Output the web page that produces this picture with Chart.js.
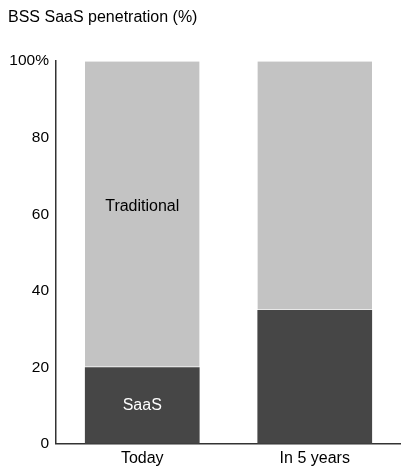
<!DOCTYPE html>
<html><head><meta charset="utf-8">
<script src="https://cdn.jsdelivr.net/npm/chart.js@4/dist/chart.umd.min.js"></script>
<style>html,body{margin:0;padding:0;background:#fff}#wrap{width:401px;height:466px}</style>
</head><body><div id="wrap"><canvas id="c"></canvas></div>
<script>
const categories = ['Today', 'In 5 years'];
const saas = [20, 35];
const traditional = [80, 65];
const yTicks = [0, 20, 40, 60, 80, 100];
const segmentLabels = [
  {text: 'Traditional', cat: 0, value: 62, color: '#000'},
  {text: 'SaaS', cat: 0, value: 10, color: '#fff'}
];
const FONT = '"Liberation Sans", Arial, sans-serif';

const labelPlugin = {
  id: 'segLabels',
  afterDatasetsDraw(chart) {
    const ctx = chart.ctx, x = chart.scales.x, y = chart.scales.y;
    ctx.save();
    ctx.font = '16px ' + FONT;
    ctx.textAlign = 'center'; ctx.textBaseline = 'middle';
    segmentLabels.forEach(l => {
      ctx.fillStyle = l.color;
      ctx.fillText(l.text, x.getPixelForValue(l.cat), y.getPixelForValue(l.value));
    });
    ctx.restore();
  }
};

new Chart(document.getElementById('c'), {
  type: 'bar',
  data: {
    labels: categories,
    datasets: [
      {label: 'SaaS', data: saas, backgroundColor: '#464646', borderWidth: 0},
      {label: 'Traditional', data: traditional, backgroundColor: '#c3c3c3',
       borderColor: '#e8e8e8', borderWidth: {top: 0, bottom: 1, left: 0, right: 0}, borderSkipped: false}
    ]
  },
  options: {
    responsive: true, maintainAspectRatio: false, animation: false,
    layout: {padding: {left: 8, right: 0, top: 0, bottom: -7}},
    categoryPercentage: 0.665, barPercentage: 1,
    plugins: {
      legend: {display: false}, tooltip: {enabled: false},
      title: {display: true, text: 'BSS SaaS penetration (%)', align: 'start', color: '#000',
        font: {family: FONT, size: 16, weight: 'normal'}, padding: {top: 8, bottom: 34}}
    },
    scales: {
      x: {stacked: true, grid: {display: false, drawTicks: false},
          border: {display: true, color: '#333', width: 1.5},
          ticks: {color: '#000', font: {family: FONT, size: 16}, padding: 5}},
      y: {stacked: true, min: 0, max: 100,
          afterBuildTicks(s) { s.ticks = yTicks.map(v => ({value: v})); },
          afterFit(s) { s.width = 48; },
          grid: {display: false, drawTicks: false},
          border: {display: true, color: '#333', width: 1.5},
          ticks: {color: '#000', font: {family: FONT, size: 15.5}, padding: 7,
                  callback: v => v === 100 ? '100%' : String(v)}}
    }
  },
  plugins: [labelPlugin]
});
</script></body></html>
